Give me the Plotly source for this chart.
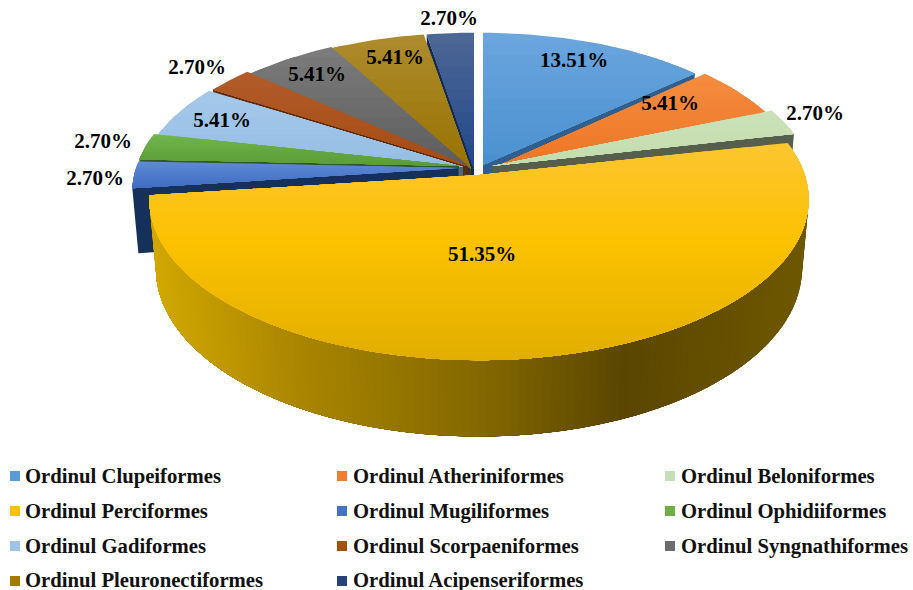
import math
import plotly.graph_objects as go

categories = ["Ordinul Clupeiformes", "Ordinul Atheriniformes", "Ordinul Beloniformes",
              "Ordinul Perciformes", "Ordinul Mugiliformes", "Ordinul Ophidiiformes",
              "Ordinul Gadiformes", "Ordinul Scorpaeniformes", "Ordinul Syngnathiformes",
              "Ordinul Pleuronectiformes", "Ordinul Acipenseriformes"]
values = [13.51, 5.41, 2.70, 51.35, 2.70, 2.70, 5.41, 2.70, 5.41, 5.41, 2.70]
value_labels = ["13.51%", "5.41%", "2.70%", "51.35%", "2.70%", "2.70%", "5.41%", "2.70%", "5.41%", "5.41%", "2.70%"]

# styling
top_hi = ["#6ba6de", "#f58c40", "#cbe2b8", "#fdc531", "#5f8ad8", "#70b54d", "#a6c9ea", "#b25c2a", "#7c7c7c", "#ae8b2e", "#4f6896"]
top_lo = ["#4a90d0", "#ed7524", "#c3dcae", "#e2ae00", "#3f6cc0", "#5a9c36", "#95bde4", "#a64b14", "#5c5c5c", "#987200", "#1f4788"]
wall = ["#2f5f8e", "#8a4414", "#565f4b", "#7f6500", "#16305c", "#2f5a25", "#4e6a82", "#5c2a0b", "#333333", "#4a3900", "#122a54"]
legend_col = ["#5b9bd5", "#ed7d31", "#c5e0b4", "#ffc000", "#4472c4", "#70ad47", "#9dc3e6", "#a5500f", "#6b6b6b", "#a67c00", "#264478"]
apex_x = [483, 493, 492, 479, 458, 459, 463, 467, 470, 471, 474]
apex_y = [165, 168, 166, 175, 168, 166, 167, 166, 168, 169, 169]
scale_x = [0.965, 0.965, 0.99, 1.012, 1.0, 1.0, 1.0, 1.0, 1.0, 1.0, 1.0]
scale_y = [0.97, 1.0, 1.0, 1.0, 1.0, 1.0, 1.0, 1.0, 1.0, 1.0, 1.0]
depth = [1.0, 1.0, 1.0, 1.0, 0.93, 1.0, 1.0, 1.0, 1.0, 1.0, 1.0]
label_x = [574, 670, 815, 482, 95, 103, 222, 197, 317, 395, 449]
label_y = [62, 105, 115, 256, 180, 143, 122, 69, 76, 59, 20]
legend_x = [15, 342, 670]
legend_text_x = [25, 353, 681]
legend_y = [476, 511, 546, 581]
legend_text_y = [478, 513, 548, 582]

A, B, K, M, E = 322.0, 157.0, 0.152, 0.02, 70.0


def project(i, theta, r=1.0, z=0.0):
    u = r * math.sin(theta)
    v = -r * math.cos(theta)
    d = 1 - K * v + M * z
    return apex_x[i] + A * scale_x[i] * u / d, apex_y[i] + (B * scale_y[i] * v + E * z) / d


def mix(c1, c2, t):
    a = [int(c1[j:j + 2], 16) for j in (1, 3, 5)]
    b = [int(c2[j:j + 2], 16) for j in (1, 3, 5)]
    return "#%02x%02x%02x" % tuple(round(a[j] + (b[j] - a[j]) * t) for j in range(3))


def clip_below(poly, y):
    out = []
    n = len(poly)
    for j in range(n):
        p, q = poly[j], poly[(j + 1) % n]
        pin, qin = p[1] >= y, q[1] >= y
        if pin:
            out.append(p)
        if pin != qin:
            t = (y - p[1]) / (q[1] - p[1])
            out.append((p[0] + (q[0] - p[0]) * t, y))
    return out


fig = go.Figure()


def fill(poly, color, name):
    xs = [p[0] for p in poly] + [poly[0][0]]
    ys = [p[1] for p in poly] + [poly[0][1]]
    fig.add_trace(go.Scatter(x=xs, y=ys, mode="lines", fill="toself", fillcolor=color,
                             line=dict(color=color, width=0), name=name,
                             hoverinfo="skip", showlegend=False))


total = sum(values)
starts = []
acc = 0.0
for val in values:
    starts.append(acc / total * 2 * math.pi)
    acc += val
ends = starts[1:] + [2 * math.pi]

# far-to-near painting order, the big near slice last
order = [10, 9, 8, 7, 6, 5, 4, 0, 1, 2, 3]
for i in order:
    t0, t1 = starts[i], ends[i]
    name = categories[i]
    cut = t1 if i in (0, 1, 2) else t0
    if i != 3:
        z = depth[i]
        fill([project(i, cut), project(i, cut, 1, z), project(i, cut, 0, z), project(i, cut, 0, 0)], wall[i], name)
    else:
        # curved wall, shaded across the width; each strip overlaps the next to avoid seams
        n = 150
        stops = [(150, "#d2a800"), (300, "#a98500"), (480, "#846800"), (625, "#5a4600"), (810, "#6e5800")]
        for k in range(n):
            a = t0 + (t1 - t0) * k / n
            b = t0 + (t1 - t0) * (k + 1) / n
            outer = [project(i, t1 - (t1 - a) * s / 12) for s in range(13)]
            bottom = [project(i, t1 - (t1 - a) * s / 12, 1, 1) for s in range(13)]
            strip = outer[::-1] + bottom
            xm = (project(i, a)[0] + project(i, b)[0]) / 2
            col = stops[-1][1]
            for (x0, c0), (x1, c1) in zip(stops, stops[1:]):
                if x0 <= xm <= x1:
                    col = mix(c0, c1, (xm - x0) / (x1 - x0))
                    break
            if xm < stops[0][0]:
                col = stops[0][1]
            fill(strip, col, name)
    # top face with a vertical gradient; each band reaches down to the bottom, later bands paint over
    steps = max(8, int((t1 - t0) * 40))
    poly = [project(i, 0, 0)] + [project(i, t0 + (t1 - t0) * k / steps) for k in range(steps + 1)]
    ymin = min(p[1] for p in poly)
    ymax = max(p[1] for p in poly)
    bands = 50 if i == 3 else 12
    for b in range(bands):
        y0 = ymin + (ymax - ymin) * b / bands
        part = poly if b == 0 else clip_below(poly, y0)
        if len(part) >= 3:
            f = (b + 0.5) / bands
            if i == 3:
                col = mix(top_hi[i], "#fcc200", f / 0.45) if f < 0.45 else mix("#fcc200", top_lo[i], (f - 0.45) / 0.55)
            else:
                col = mix(top_hi[i], top_lo[i], f)
            fill(part, col, name)

serif = "Liberation Serif"
fig.add_trace(go.Scatter(x=label_x, y=label_y, mode="text", text=value_labels,
                         textposition="middle center", hoverinfo="skip", showlegend=False,
                         textfont=dict(family=serif, size=21, color="#000000", weight="bold")))

lx = [legend_x[j % 3] for j in range(len(categories))]
tx = [legend_text_x[j % 3] for j in range(len(categories))]
ly = [legend_y[j // 3] for j in range(len(categories))]
lty = [legend_text_y[j // 3] for j in range(len(categories))]
fig.add_trace(go.Scatter(x=lx, y=ly, mode="markers", hoverinfo="skip", showlegend=False,
                         marker=dict(symbol="square", size=10, color=legend_col, line=dict(width=0))))
fig.add_trace(go.Scatter(x=tx, y=lty, mode="text", text=categories,
                         textposition="middle right", hoverinfo="skip", showlegend=False,
                         textfont=dict(family=serif, size=20.7, color="#111111", weight="bold")))

fig.update_xaxes(range=[0, 913], visible=False, fixedrange=True)
fig.update_yaxes(range=[590, 0], visible=False, fixedrange=True)
fig.update_layout(width=913, height=590, margin=dict(l=0, r=0, t=0, b=0),
                  paper_bgcolor="white", plot_bgcolor="white", showlegend=False)
fig.write_html("out.html", config=dict(displayModeBar=False),
               post_script="document.body.style.margin='0';document.documentElement.style.overflow='hidden';")
